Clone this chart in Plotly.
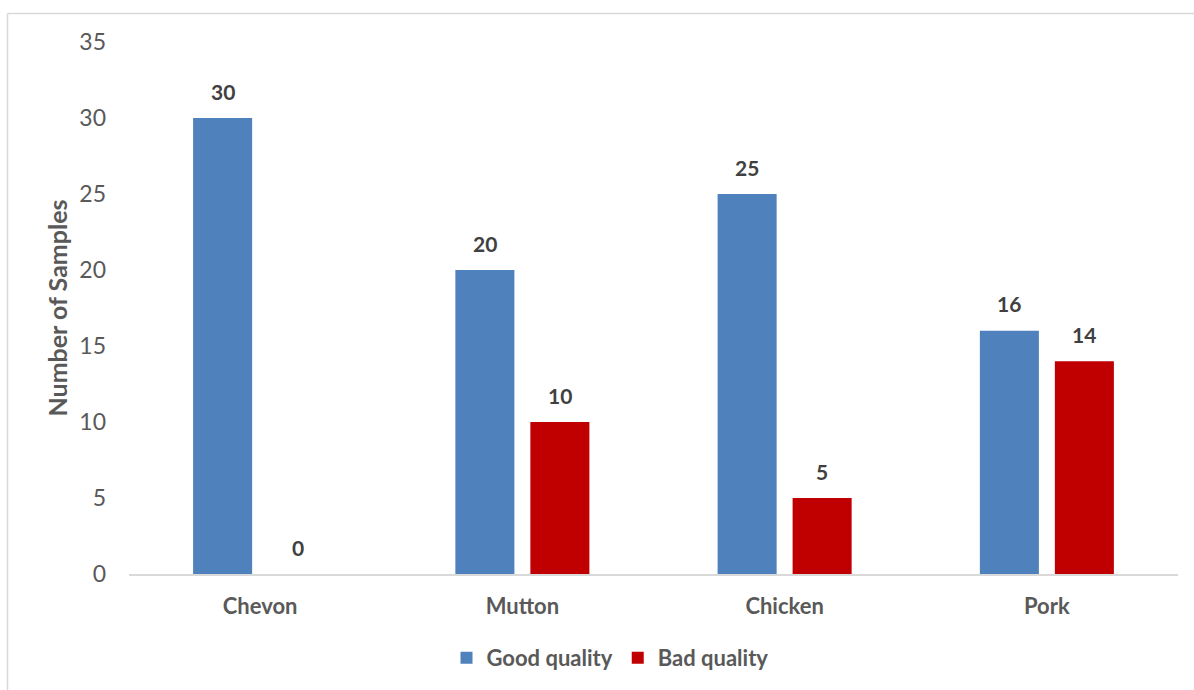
import plotly.graph_objects as go

categories = ["Chevon", "Mutton", "Chicken", "Pork"]
good_quality = [30, 20, 25, 16]
bad_quality = [0, 10, 5, 14]
series_names = ["Good quality", "Bad quality"]
y_ticks = [0, 5, 10, 15, 20, 25, 30, 35]

W, H = 1194, 690
ML, MR, MT, MB = 129, 16, 42, 116
PW, PH = W - ML - MR, H - MT - MB

def px_x(p):
    return (p - ML) / PW

def px_y(p):
    return (H - MB - p) / PH

FONT = "Lato"
BLUE = "#4F81BD"
RED = "#C00000"

fig = go.Figure()
fig.add_trace(go.Bar(x=categories, y=good_quality, name=series_names[0],
                     marker=dict(color=BLUE, line=dict(width=0))))
fig.add_trace(go.Bar(x=categories, y=bad_quality, name=series_names[1],
                     marker=dict(color=RED, line=dict(width=0))))

annotations = []
for vals, shift in ((good_quality, -37.5), (bad_quality, 37.5)):
    for c, v in zip(categories, vals):
        annotations.append(dict(x=c, y=v, xref="x", yref="y", text=str(v),
                                showarrow=False, xshift=shift, yshift=27,
                                yanchor="middle",
                                font=dict(family=FONT, size=21, color="#404040", weight="bold")))

fig.update_layout(
    width=W, height=H,
    margin=dict(l=ML, r=MR, t=MT, b=MB, autoexpand=False),
    paper_bgcolor="white", plot_bgcolor="white",
    barmode="group", bargap=0.428, bargroupgap=0.213,
    font=dict(family=FONT, size=22, color="#595959"),
    showlegend=True,
    legend=dict(orientation="h", x=px_x(610), y=px_y(658), xanchor="center", yanchor="middle",
                font=dict(family=FONT, size=22, color="#595959", weight="bold"),
                itemwidth=30, traceorder="normal"),
    annotations=annotations,
    shapes=[
        dict(type="line", xref="paper", yref="paper", x0=px_x(7.5), x1=px_x(1200),
             y0=px_y(13.5), y1=px_y(13.5), line=dict(color="#D9D9D9", width=1.5)),
        dict(type="line", xref="paper", yref="paper", x0=px_x(7.5), x1=px_x(7.5),
             y0=px_y(13.5), y1=px_y(700), line=dict(color="#D9D9D9", width=1.5)),
    ],
)
fig.update_xaxes(showgrid=False, showline=True, linecolor="#D9D9D9", linewidth=1.5,
                 ticks="", ticklabelstandoff=12,
                 tickfont=dict(family=FONT, size=22, color="#595959", weight="bold"))
fig.update_yaxes(range=[0, 35], tickvals=y_ticks, showgrid=False, zeroline=False,
                 showline=False, ticks="", ticklabelstandoff=22,
                 tickfont=dict(family=FONT, size=23, color="#595959"),
                 title=dict(text="Number of Samples", standoff=4,
                            font=dict(family=FONT, size=25, color="#595959", weight="bold")))

fig.write_html("out.html")
